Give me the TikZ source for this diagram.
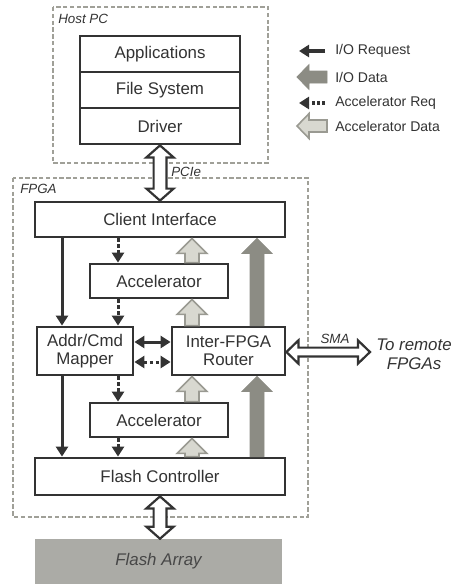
\documentclass[tikz,border=0pt]{standalone}
\usepackage{fontspec}
\setmainfont{Liberation Sans}
\usetikzlibrary{arrows.meta,calc}

\definecolor{ink}{HTML}{333333}
\definecolor{iodata}{HTML}{8C8C84}
\definecolor{accdata}{HTML}{D8D8D0}
\definecolor{accedge}{HTML}{9A9A92}
\definecolor{frame}{HTML}{A0A098}
\definecolor{flash}{HTML}{ABABA6}

\tikzset{
  blk/.style={draw=ink, line width=0.7mm, fill=white, text=ink, inner sep=0pt,
    font=\fontsize{12}{13}\selectfont},
  zone/.style={draw=frame, line width=0.3mm, dash pattern=on 1.1mm off 0.6mm},
  zonelabel/.style={font=\fontsize{9.5}{10}\selectfont\itshape, text=ink, anchor=west, inner sep=0pt},
  lgtext/.style={font=\fontsize{10}{11}\selectfont, text=ink, anchor=west, inner sep=0pt},
  req/.style={draw=ink, line width=0.75mm, -{Triangle[length=2.5mm,width=3mm]}},
  accreq/.style={req, dash pattern=on 0.9mm off 0.6mm},
  % fat arrow: shaft half width / head half width / head length
  fat/.style n args={3}{to path={
    let \p1=(\tikztostart), \p2=(\tikztotarget), \p3=($(\p2)!#3!(\p1)$) in
    ($(\p1)!#1!90:(\p2)$) -- ($(\p3)!#1!-90:(\p1)$) -- ($(\p3)!#2!-90:(\p1)$) -- (\p2)
    -- ($(\p3)!#2!90:(\p1)$) -- ($(\p3)!#1!90:(\p1)$) -- ($(\p1)!#1!-90:(\p2)$) -- cycle}},
  fatboth/.style n args={3}{to path={
    let \p1=(\tikztostart), \p2=(\tikztotarget), \p3=($(\p1)!#3!(\p2)$), \p4=($(\p2)!#3!(\p1)$) in
    (\p1) -- ($(\p3)!#2!90:(\p2)$) -- ($(\p3)!#1!90:(\p2)$) -- ($(\p4)!#1!-90:(\p1)$)
    -- ($(\p4)!#2!-90:(\p1)$) -- (\p2) -- ($(\p4)!#2!90:(\p1)$) -- ($(\p4)!#1!90:(\p1)$)
    -- ($(\p3)!#1!-90:(\p2)$) -- ($(\p3)!#2!-90:(\p2)$) -- cycle}},
  iodat/.style={draw=iodata, fill=iodata, line width=0.2mm},
  accdat/.style={draw=accedge, fill=accdata, line width=0.4mm},
  link/.style={draw=ink, fill=white, line width=0.55mm},
}

\begin{document}
\begin{tikzpicture}[x=0.25mm, y=-0.25mm]
  \useasboundingbox (0,0) rectangle (452,586);
  % lanes for the vertical connectors
  \coordinate (reqx) at (62,0);
  \coordinate (accx) at (118,0);
  \coordinate (datx) at (192,0);
  \coordinate (iox) at (257,0);

  % host
  \draw[zone] (53,7) rectangle (268,163);
  \node[zonelabel] (hostlbl) at (58,19) {Host PC};
  \node[blk, minimum width=40mm, minimum height=9mm] (apps) at (160,54) {Applications};
  \node[blk, minimum width=40mm, minimum height=9mm] (fs) at (160,90) {File System};
  \node[blk, minimum width=40mm, minimum height=9mm] (drv) at (160,126) {Driver};

  % fpga
  \draw[zone] (13,178) rectangle (308,517);
  \node[zonelabel] (fpgalbl) at (20,189) {FPGA};
  \node[zonelabel] (pcielbl) at (171,172) {PCIe};
  \node[blk, minimum width=62.5mm, minimum height=8.75mm] (client) at (160,219.5) {Client Interface};
  \node[blk, minimum width=34.5mm, minimum height=8.5mm] (acc1) at (159,281) {Accelerator};
  \node[blk, minimum width=24mm, minimum height=12mm, align=center] (mapper) at (85,351)
    {Addr/Cmd\\Mapper};
  \node[blk, minimum width=28.25mm, minimum height=12mm, align=center] (router) at (228.5,351)
    {Inter-FPGA\\Router};
  \node[blk, minimum width=34.5mm, minimum height=8.5mm] (acc2) at (159,420) {Accelerator};
  \node[blk, minimum width=62.5mm, minimum height=9.25mm] (flashctl) at (160,476.5) {Flash Controller};

  % storage
  \node[fill=flash, text=ink!90, minimum width=61.75mm, minimum height=11.25mm, inner sep=0pt,
    font=\fontsize{12}{13}\selectfont\itshape] (array) at (158.5,561.5) {Flash Array};

  % host links
  \draw[link, fatboth={1.6mm}{3.4mm}{3mm}] (drv.south) to (client.north);
  \draw[link, fatboth={1.6mm}{3.4mm}{3mm}] (flashctl.south) to (flashctl.south |- array.north);

  % i/o requests
  \draw[req] (client.south -| reqx) -- (mapper.north -| reqx);
  \draw[req] (mapper.south -| reqx) -- (flashctl.north -| reqx);
  \draw[req, {Triangle[length=2.5mm,width=3mm]}-{Triangle[length=2.5mm,width=3mm]}]
    ([yshift=2.25mm]mapper.east) -- ([yshift=2.25mm]router.west);

  % accelerator requests
  \draw[accreq] (client.south -| accx) -- (acc1.north -| accx);
  \draw[accreq] (acc1.south -| accx) -- (mapper.north -| accx);
  \draw[accreq] (mapper.south -| accx) -- (acc2.north -| accx);
  \draw[accreq] (acc2.south -| accx) -- (flashctl.north -| accx);
  \draw[accreq, {Triangle[length=2.5mm,width=3mm]}-{Triangle[length=2.5mm,width=3mm]}]
    ([yshift=-2.75mm]mapper.east) -- ([yshift=-2.75mm]router.west);

  % accelerator data
  \draw[accdat, fat={1.75mm}{3.75mm}{3.75mm}] (acc1.north -| datx) to (client.south -| datx);
  \draw[accdat, fat={1.75mm}{3.75mm}{3.75mm}] (router.north -| datx) to (acc1.south -| datx);
  \draw[accdat, fat={1.75mm}{3.75mm}{3.75mm}] (acc2.north -| datx) to (router.south -| datx);
  \draw[accdat, fat={1.75mm}{3.75mm}{3.75mm}] (flashctl.north -| datx) to (acc2.south -| datx);

  % i/o data
  \draw[iodat, fat={1.75mm}{3.75mm}{3.75mm}] (router.north -| iox) to (client.south -| iox);
  \draw[iodat, fat={1.75mm}{3.75mm}{3.75mm}] (flashctl.north -| iox) to (router.south -| iox);

  % remote link
  \coordinate (remote) at (370,352);
  \draw[link, fatboth={1.1mm}{2.9mm}{3mm}] ([yshift=-0.25mm]router.east) to (remote);
  \node[zonelabel, anchor=center] (smalbl) at (335,339) {SMA};
  \node[font=\fontsize{12}{13.5}\selectfont\itshape, text=ink, align=center, inner sep=0pt]
    (remotelbl) at (414,354) {To remote\\FPGAs};

  % legend
  \node[lgtext] (lgreq) at (335,51) {I/O Request};
  \node[lgtext] (lgdata) at (335,77) {I/O Data};
  \node[lgtext] (lgacc) at (335,103) {Accelerator Req};
  \node[lgtext] (lgaccd) at (335,126) {Accelerator Data};
  \draw[req, line width=1mm] ([xshift=-2.5mm]lgreq.west) -- ++(-6.5mm,0);
  \draw[iodat, fat={1.5mm}{3.1mm}{3mm}] ([xshift=-2mm]lgdata.west) to ++(-7.5mm,0);
  \draw[accreq, line width=1mm, dash pattern=on 0.7mm off 0.6mm] ([xshift=-2.5mm]lgacc.west) -- ++(-6.5mm,0);
  \draw[accdat, fat={1.5mm}{3.1mm}{3mm}] ([xshift=-2mm]lgaccd.west) to ++(-7.5mm,0);
\end{tikzpicture}
\end{document}
